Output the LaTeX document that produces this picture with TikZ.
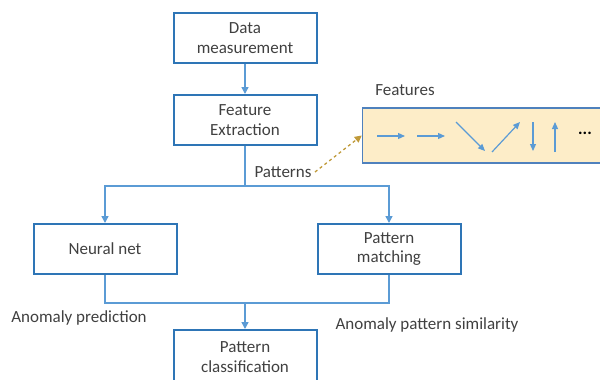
\documentclass[tikz,border=0pt]{standalone}
\usepackage{fontspec}
\setmainfont{Carlito}
\usetikzlibrary{arrows.meta}
\definecolor{boxblue}{HTML}{2E75B6}
\definecolor{lineblue}{HTML}{5B9BD5}
\definecolor{featfill}{HTML}{FDEDC8}
\definecolor{featline}{HTML}{4F81BD}
\definecolor{dashgold}{HTML}{C09A3A}

\begin{document}
\begin{tikzpicture}
[x=1pt,y=-1pt,%
  every node/.style={font=\fontsize{17}{19.5}\selectfont,text=black!75},%
  stepbox/.style={draw=boxblue,line width=2pt,minimum width=143pt,minimum height=50pt,align=center,inner sep=2pt},%
  flow/.style={draw=lineblue,line width=1.5pt},%
  tip/.style={-{Triangle[width=7pt,length=7pt]}}]
\useasboundingbox (0,0) rectangle (600,380);
% main chain
\node[stepbox] (data) at (245,38) {Data\\measurement};
\node[stepbox] (extract) at (245,120) {Feature\\Extraction};
\node[stepbox] (neural) at (105,249) {Neural net};
\node[stepbox] (match) at (389,249) {Pattern\\matching};
\node[stepbox,minimum height=54pt] (classify) at (245,357) {Pattern\\classification};
\coordinate (split) at (245,186);
\coordinate (join) at (245,303);
\draw[flow,tip] (data) -- (extract);
\draw[flow] (extract) -- (split);
\draw[flow,tip] (split) -| (neural);
\draw[flow,tip] (split) -| (match);
\draw[flow] (neural) |- (join) -| (match);
\draw[flow,tip] (join) -- (classify);
% labels
\node (patterns) at (283,172) {Patterns};
\node (anompred) at (79,318) {Anomaly prediction};
\node (anomsim) at (427,325) {Anomaly pattern similarity};
\node (featlabel) at (405,90) {Features};
% feature strip
\node[draw=featline,fill=featfill,line width=1.5pt,minimum width=247pt,minimum height=55pt] (features) at (486,135.5) {};
\draw[dashgold,dashed,line width=1.3pt,-{Triangle[width=7pt,length=7pt]}] (patterns.east) -- (features.west);
\foreach \sx/\sy/\ex/\ey in {377/136/405/136, 417/136/445/136, 456/122/485/151, 492/152/520/122, 533/122/533/151, 555/152/555/122}
  \draw[lineblue,line width=1.2pt,-{Triangle[width=6pt,length=7pt]}] (\sx,\sy) -- (\ex,\ey);
\node[text=black] (dots) at (585,133) {\textbf{...}};
\end{tikzpicture}
\end{document}
